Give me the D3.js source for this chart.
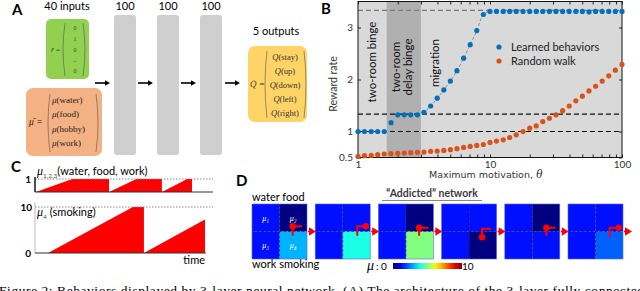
<!DOCTYPE html>
<html>
  <meta charset='utf-8'>
  <style>
    body{ margin: 0; background: #fff; }
    svg{ display: block; }
    text{ font-family: Lato, 'Open Sans', sans-serif; }
    .serif{ font-family: 'Liberation Serif', 'DejaVu Serif', serif; }
    .panel{ font-weight: bold; font-size: 15px; }
  </style>
  <body>
    <svg width='640' height='291'></svg>
    <script src='https://d3js.org/d3.v7.min.js'></script>
    <script>
      // ---- panel A data
      const hiddenLayers = [100, 100, 100]
      const roomVector = ['0', '1', '0', '..', '0']
      const motivNames = ['water', 'food', 'hobby', 'work']
      const actions = ['stay', 'up', 'down', 'left', 'right']

      // ---- panel B data
      const theta = [1, 1.12, 1.26, 1.41, 1.58, 1.78, 2, 2.24, 2.51, 2.82, 3.16, 3.55, 3.98, 4.47, 5.01, 5.62, 6.31, 7.08, 7.94, 8.91,
        10, 11.2, 12.6, 14.1, 15.8, 17.8, 20, 22.4, 25.1, 28.2, 31.6, 35.5, 39.8, 44.7, 50.1, 56.2, 63.1, 70.8, 79.4, 89.1, 100]
      const learned = [1, 1, 1, 1, 1, 1.17, 1.32, 1.32, 1.32, 1.32, 1.37, 1.49, 1.64, 1.8, 1.97, 2.17, 2.41, 2.67, 2.94, 3.25,
        3.31, 3.31, 3.31, 3.31, 3.31, 3.31, 3.31, 3.31, 3.31, 3.31, 3.31, 3.31, 3.31, 3.31, 3.31, 3.3, 3.31, 3.31, 3.31, 3.31, 3.31]
      const randomWalk = [0.52, 0.535, 0.54, 0.555, 0.567, 0.573, 0.58, 0.586, 0.592, 0.6, 0.605, 0.618, 0.624, 0.637, 0.65, 0.67, 0.694, 0.713, 0.732, 0.75,
        0.79, 0.815, 0.84, 0.885, 0.936, 1, 1.064, 1.108, 1.19, 1.255, 1.32, 1.4, 1.49, 1.59, 1.68, 1.78, 1.87, 1.97, 2.07, 2.18, 2.29]
      const refLines = [1, 4 / 3, 3.33]
      const delayBand = [1.65, 3.0]
      const yTicksB = [0.5, 1, 2, 3]

      // ---- panel C data (time, value)
      const motiveT = [0.5, 21, 41.6, 41.6, 57, 71.3, 71.3, 85.5, 88.2, 88.2]
      const motiveV = [0, 1, 1, 0, 1, 1, 0, 1, 1, 0]
      const smokeT = [7.3, 55, 61.2, 61.2, 95.5, 95.5]
      const smokeV = [0, 10, 10, 0, 7.3, 0]

      // ---- panel D data: mu of water, food, work, smoking per frame
      const frameMu = [
        [1.4, 0, 1.4, 3.0],
        [1.4, 1.4, 1.4, 4.0],
        [1.4, 0, 1.4, 5.0],
        [1.4, 1.4, 1.4, 0],
        [1.4, 0, 1.4, 1.4],
        [1.4, 1.4, 1.4, 2.2]
      ]
      // agent path in grid units (0..2) and its dot
      const agentPath = [
        [[1.48, 1.15], [1.48, 0.81], [1.82, 0.81]],
        [[1.53, 1.15], [1.53, 0.81], [1.84, 0.81]],
        [[1.48, 1.15], [1.48, 0.86], [1.82, 0.86]],
        [[1.47, 1.21], [1.47, 0.9], [1.8, 0.9]],
        [[1.51, 1.15], [1.51, 0.86], [1.84, 0.86]],
        [[1.51, 1.21], [1.51, 0.86], [1.84, 0.86]]
      ]
      const agentDot = [[1.48, 0.81], [1.84, 0.81], [1.48, 0.86], [1.47, 1.21], [1.51, 0.86], [1.84, 0.86]]

      const svg = d3.select('svg')

      const arrow = (g, x1, x2, y, color, head = 4) => {
        g.append('line').attr('x1', x1).attr('x2', x2 - head).attr('y1', y).attr('y2', y)
          .attr('stroke', color).attr('stroke-width', 1.6)
        g.append('path').attr('d', `M${x2},${y}L${x2 - head - 1},${y - head * 0.7}L${x2 - head - 1},${y + head * 0.7}Z`)
          .attr('fill', color)
      }

      const paren = (g, x, y0, y1, dir) => {
        let bend = 4 * dir
        g.append('path').attr('d', `M${x},${y0}Q${x - bend},${(y0 + y1) / 2} ${x},${y1}`)
          .attr('fill', 'none').attr('stroke', '#555').attr('stroke-width', 0.6)
      }

      /* ======== A: network ======== */
      const gA = svg.append('g')
      gA.append('text').attr('class', 'panel').attr('x', 12).attr('y', 15).text('A')
      gA.append('text').attr('x', 67).attr('y', 10).attr('text-anchor', 'middle').attr('font-size', 11).text('40 inputs')

      gA.append('rect').attr('x', 46).attr('y', 19).attr('width', 43).attr('height', 60).attr('rx', 5).attr('fill', '#92d050')
      gA.append('text').attr('class', 'serif').attr('x', 51).attr('y', 52).attr('font-size', 7).attr('font-style', 'italic').attr('fill', '#333').text('r̄ =')
      paren(gA, 65, 23, 76, 1)
      paren(gA, 83, 23, 76, -1)
      const yVec = d3.scalePoint().domain(d3.range(roomVector.length)).range([28, 71])
      gA.selectAll('.rv').data(roomVector).join('text')
        .attr('class', 'serif').attr('x', 75).attr('y', (d, i) => yVec(i) + 2).attr('text-anchor', 'middle')
        .attr('font-size', 6).attr('fill', '#444').text(d => d)

      gA.append('rect').attr('x', 26).attr('y', 88).attr('width', 76).attr('height', 68).attr('rx', 7).attr('fill', '#f4b183')
      gA.append('text').attr('class', 'serif').attr('x', 29).attr('y', 125).attr('font-size', 9.5).attr('font-style', 'italic').attr('fill', '#222').text('μ̄ =')
      paren(gA, 50, 94, 152, 1)
      paren(gA, 96, 94, 152, -1)
      const yMu = d3.scalePoint().domain(d3.range(motivNames.length)).range([100, 143])
      motivNames.forEach((name, i) => {
        let t = gA.append('text').attr('class', 'serif').attr('x', 52).attr('y', yMu(i) + 3).attr('font-size', 9).attr('fill', '#222')
        t.append('tspan').attr('font-style', 'italic').text('μ')
        t.append('tspan').text(`(${name})`)
      })

      const xCol = d3.scaleLinear().domain([0, 1]).range([114, 157])
      hiddenLayers.forEach((n, i) => {
        gA.append('rect').attr('x', xCol(i)).attr('y', 15).attr('width', 22).attr('height', 140).attr('rx', 3).attr('fill', '#cfcfcf')
        gA.append('text').attr('x', xCol(i) + 11).attr('y', 10).attr('text-anchor', 'middle').attr('font-size', 11).text(n)
        arrow(gA, xCol(i) - 19, xCol(i) - 4, 83, '#000')
      })

      gA.append('text').attr('x', 276).attr('y', 35).attr('text-anchor', 'middle').attr('font-size', 11).text('5 outputs')
      gA.append('rect').attr('x', 248).attr('y', 46).attr('width', 59).attr('height', 76).attr('rx', 7).attr('fill', '#ffd466')
      arrow(gA, 225, 240, 83, '#000')
      gA.append('text').attr('class', 'serif').attr('x', 250).attr('y', 87).attr('font-size', 9).attr('font-style', 'italic').attr('fill', '#333').text('Q̇ =')
      paren(gA, 267, 51, 118, 1)
      paren(gA, 304, 51, 118, -1)
      const yQ = d3.scalePoint().domain(d3.range(actions.length)).range([57, 113])
      actions.forEach((a, i) => {
        let t = gA.append('text').attr('class', 'serif').attr('x', 285).attr('y', yQ(i) + 3).attr('text-anchor', 'middle')
          .attr('font-size', 8.5).attr('fill', '#333')
        t.append('tspan').attr('font-style', 'italic').text('Q')
        t.append('tspan').text(`(${a})`)
      })

      /* ======== B: reward rate ======== */
      const gB = svg.append('g')
      const x = d3.scaleLog().domain([1, 100]).range([358, 622])
      const y = d3.scaleLinear().domain([0.5, 3.5]).range([157.5, 1.5])
      gB.append('text').attr('class', 'panel').attr('x', 321).attr('y', 14).text('B')

      gB.append('rect').attr('x', x(1)).attr('y', y(3.5)).attr('width', x(100) - x(1)).attr('height', y(0.5) - y(3.5)).attr('fill', '#d9d9d9')
      gB.append('rect').attr('x', x(delayBand[0])).attr('y', y(3.5)).attr('width', x(delayBand[1]) - x(delayBand[0]))
        .attr('height', y(0.5) - y(3.5)).attr('fill', '#b0b0b0')

      refLines.forEach((v, i) => {
        gB.append('line').attr('x1', x(1)).attr('x2', x(100)).attr('y1', y(v)).attr('y2', y(v))
          .attr('stroke', i === 2 ? '#7a7a7a' : '#111').attr('stroke-width', 1.1).attr('stroke-dasharray', '5,3')
      })

      // fit curve through the migration part
      const fitIdx = d3.range(9, 21)
      gB.append('path').datum(fitIdx)
        .attr('d', d3.line().x(i => x(theta[i])).y(i => y(learned[i])).curve(d3.curveMonotoneX))
        .attr('fill', 'none').attr('stroke', '#777').attr('stroke-width', 0.8).attr('stroke-dasharray', '3,2')

      const yAxis = d3.axisLeft(y).tickValues(yTicksB).tickSize(-3).tickPadding(5).tickFormat(d3.format('~g'))
      const yAxisR = d3.axisRight(y).tickValues(yTicksB).tickSize(-3).tickFormat('')
      const xAxis = d3.axisBottom(x).ticks(10).tickSize(-3).tickPadding(3).tickFormat(d => [1, 10, 100].includes(d) ? d : '')
      const xAxisT = d3.axisTop(x).ticks(10).tickSize(-3).tickFormat('')
      const styleAxis = (g) => {
        g.select('.domain').remove()
        g.selectAll('line').attr('stroke', '#222')
        g.selectAll('text').attr('font-family', '"Liberation Sans", Arial, sans-serif').attr('font-size', 10).attr('fill', '#333')
      }
      gB.append('g').attr('transform', `translate(${x(1)},0)`).call(yAxis).call(styleAxis)
      gB.append('g').attr('transform', `translate(${x(100)},0)`).call(yAxisR).call(styleAxis)
      gB.append('g').attr('transform', `translate(0,${y(0.5)})`).call(xAxis).call(styleAxis)
      gB.append('g').attr('transform', `translate(0,${y(3.5)})`).call(xAxisT).call(styleAxis)
      gB.append('rect').attr('x', x(1)).attr('y', y(3.5)).attr('width', x(100) - x(1)).attr('height', y(0.5) - y(3.5))
        .attr('fill', 'none').attr('stroke', '#111').attr('stroke-width', 1)

      gB.append('text').attr('transform', `translate(337,84) rotate(-90)`).attr('text-anchor', 'middle')
        .attr('font-size', 10.5).attr('fill', '#333').text('Reward rate')
      const xl = gB.append('text').attr('x', 429).attr('y', 178).attr('font-size', 10.5).attr('fill', '#333')
      xl.append('tspan').attr('font-family', 'Verdana, "DejaVu Sans", sans-serif').attr('font-size', 9.5).text('Maximum motivation,  ')
      xl.append('tspan').attr('class', 'serif').attr('font-style', 'italic').attr('font-size', 13).text('θ')

      const vlabel = (lines, cx, cy) => {
        lines.forEach((s, i) => {
          gB.append('text').attr('transform', `translate(${cx + (i - (lines.length - 1) / 2) * 11.5},${cy}) rotate(-90)`)
            .attr('text-anchor', 'middle').attr('dy', '0.35em').attr('font-size', 11.5).attr('fill', '#111').text(s)
        })
      }
      vlabel(['two-room binge'], 372, 62)
      vlabel(['two-room', 'delay binge'], 402, 67)
      vlabel(['migration'], 435, 63)

      gB.selectAll('.rw').data(randomWalk).join('circle')
        .attr('cx', (d, i) => x(theta[i])).attr('cy', d => y(d)).attr('r', 2.6).attr('fill', '#d95319')
      gB.selectAll('.lb').data(learned).join('circle')
        .attr('cx', (d, i) => x(theta[i])).attr('cy', d => y(d)).attr('r', 2.6).attr('fill', '#0072bd')

      const legend = [['Learned behaviors', '#0072bd'], ['Random walk', '#d95319']]
      legend.forEach(([name, c], i) => {
        gB.append('circle').attr('cx', 499).attr('cy', 47 + i * 14).attr('r', 2.6).attr('fill', c)
        gB.append('text').attr('x', 511).attr('y', 51 + i * 14).attr('font-size', 11).attr('fill', '#222').text(name)
      })

      /* ======== C: motivation dynamics ======== */
      const gC = svg.append('g')
      gC.append('text').attr('class', 'panel').attr('x', 11).attr('y', 172).text('C')
      const xc = d3.scaleLinear().domain([0, 100]).range([35, 213])
      const yTop = d3.scaleLinear().domain([0, 1]).range([192, 179])
      const yBot = d3.scaleLinear().domain([0, 10]).range([253, 207])

      gC.append('path').datum(motiveT.map((t, i) => [t, motiveV[i]]))
        .attr('d', d3.area().x(d => xc(d[0])).y0(yTop(0)).y1(d => yTop(d[1]))).attr('fill', '#f00')
      gC.append('path').datum(smokeT.map((t, i) => [t, smokeV[i]]))
        .attr('d', d3.area().x(d => xc(d[0])).y0(yBot(0)).y1(d => yBot(d[1]))).attr('fill', '#f00')

      gC.append('line').attr('x1', xc(0)).attr('x2', xc(100)).attr('y1', yTop(1)).attr('y2', yTop(1))
        .attr('stroke', '#888').attr('stroke-dasharray', '1.5,1.5')
      gC.append('line').attr('x1', xc(0)).attr('x2', xc(100)).attr('y1', yTop(0)).attr('y2', yTop(0)).attr('stroke', '#333')
      gC.append('line').attr('x1', xc(0)).attr('x2', xc(0)).attr('y1', yTop(1.15)).attr('y2', yTop(0)).attr('stroke', '#222').attr('stroke-width', 1.6)
      gC.append('text').attr('x', 31).attr('y', yTop(1) + 4).attr('text-anchor', 'end').attr('font-size', 10).attr('font-weight', 'bold').text('1')

      gC.append('line').attr('x1', xc(0)).attr('x2', xc(100)).attr('y1', yBot(10)).attr('y2', yBot(10))
        .attr('stroke', '#888').attr('stroke-dasharray', '1.5,1.5')
      gC.append('line').attr('x1', xc(0)).attr('x2', xc(96)).attr('y1', yBot(0)).attr('y2', yBot(0)).attr('stroke', '#333')
      gC.append('line').attr('x1', xc(0)).attr('x2', xc(0)).attr('y1', yBot(11)).attr('y2', yBot(0)).attr('stroke', '#aaa').attr('stroke-width', 0.8)
      gC.append('text').attr('x', 32).attr('y', yBot(10) + 4).attr('text-anchor', 'end').attr('font-size', 10).attr('font-weight', 'bold').text('10')
      gC.append('text').attr('x', 31).attr('y', yBot(0) + 4).attr('text-anchor', 'end').attr('font-size', 10).attr('font-weight', 'bold').text('0')

      const t1 = gC.append('text').attr('x', 37).attr('y', 175).attr('font-size', 11)
      t1.append('tspan').attr('class', 'serif').attr('font-style', 'italic').attr('font-size', 12).text('μ')
      t1.append('tspan').attr('font-size', 6.5).attr('dy', 2.5).attr('fill', '#555').text('1,2,3')
      t1.append('tspan').attr('dy', -2.5).text('(water, food, work)')
      const t2 = gC.append('text').attr('x', 37).attr('y', 216).attr('font-size', 11)
      t2.append('tspan').attr('class', 'serif').attr('font-style', 'italic').attr('font-size', 12).text('μ')
      t2.append('tspan').attr('font-size', 6.5).attr('dy', 2.5).attr('fill', '#555').text('4')
      t2.append('tspan').attr('dy', -2.5).text(' (smoking)')
      gC.append('text').attr('x', 205).attr('y', 264).attr('text-anchor', 'end').attr('font-size', 11).text('time')

      /* ======== D: addicted network ======== */
      const gD = svg.append('g')
      gD.append('text').attr('class', 'panel').attr('x', 236).attr('y', 186).text('D')
      gD.append('text').attr('x', 252).attr('y', 201).attr('font-size', 11).text('water food')
      gD.append('text').attr('x', 252).attr('y', 268).attr('font-size', 11).text('work smoking')
      gD.append('text').attr('x', 432).attr('y', 197).attr('text-anchor', 'middle')
        .attr('font-size', 10.5).attr('font-weight', 'bold').attr('fill', '#3a3a3a').text('“Addicted” network')
      gD.append('line').attr('x1', 382).attr('x2', 482).attr('y1', 200.5).attr('y2', 200.5).attr('stroke', '#888').attr('stroke-width', 1.2)

      const jet = (v) => {
        let t = v / 10
        let c = k => Math.round(255 * Math.max(0, Math.min(1, 1.5 - Math.abs(4 * t - k))))
        return `rgb(${c(3)},${c(2)},${c(1)})`
      }
      const xFrame = d3.scaleLinear().domain([0, 5]).range([252, 568])
      const gridSize = 55
      const cell = d3.scaleLinear().domain([0, 2]).range([0, gridSize])
      const cellPos = [[0, 0], [1, 0], [0, 1], [1, 1]]

      frameMu.forEach((mus, f) => {
        let g = gD.append('g').attr('transform', `translate(${xFrame(f)},204)`)
        g.selectAll('rect').data(mus).join('rect')
          .attr('x', (d, i) => cell(cellPos[i][0])).attr('y', (d, i) => cell(cellPos[i][1]))
          .attr('width', cell(1)).attr('height', cell(1)).attr('fill', d => jet(d))
        g.append('line').attr('x1', 0).attr('x2', gridSize).attr('y1', cell(1)).attr('y2', cell(1))
          .attr('stroke', '#101040').attr('stroke-width', 0.6).attr('stroke-dasharray', '3,1.5')
        g.append('line').attr('x1', cell(1)).attr('x2', cell(1)).attr('y1', 0).attr('y2', gridSize)
          .attr('stroke', '#101040').attr('stroke-width', 0.6).attr('stroke-dasharray', '3,1.5')
        g.append('rect').attr('width', gridSize).attr('height', gridSize).attr('fill', 'none').attr('stroke', '#5a6ad0').attr('stroke-width', 0.6)
        if (f === 0) {
          g.selectAll('.lab').data(mus).join('text')
            .attr('class', 'serif').attr('x', (d, i) => cell(cellPos[i][0] + 0.5)).attr('y', (d, i) => cell(cellPos[i][1] + 0.5) + 3)
            .attr('text-anchor', 'middle').attr('font-size', 8).attr('font-style', 'italic').attr('fill', '#fff')
            .text((d, i) => `μ${'₁₂₃₄'[i]}`)
        }
        g.append('path').datum(agentPath[f])
          .attr('d', d3.line().x(p => cell(p[0])).y(p => cell(p[1])))
          .attr('fill', 'none').attr('stroke', '#f00').attr('stroke-width', 2)
        g.append('circle').attr('cx', cell(agentDot[f][0])).attr('cy', cell(agentDot[f][1])).attr('r', 3.2).attr('fill', '#f00')
        arrow(g, gridSize + 1, gridSize + 9, cell(1), '#f00', 6)
      })

      // colorbar
      const grad = svg.append('defs').append('linearGradient').attr('id', 'jet')
      d3.range(0, 10.01, 1).forEach(v => {
        grad.append('stop').attr('offset', `${v * 10}%`).attr('stop-color', jet(v))
      })
      gD.append('rect').attr('x', 393).attr('y', 263).attr('width', 69).attr('height', 6).attr('fill', 'url(#jet)')
      const cb = gD.append('text').attr('x', 367).attr('y', 270).attr('font-size', 10)
      cb.append('tspan').attr('class', 'serif').attr('font-style', 'italic').attr('font-size', 14).text('μ')
      cb.append('tspan').attr('dx', 2).text(': 0')
      gD.append('text').attr('x', 462).attr('y', 270).attr('font-size', 10).text('10')

      /* ======== caption (cut off) ======== */
      svg.append('text').attr('class', 'serif').attr('x', -1).attr('y', 294.5).attr('font-size', 13.5)
        .attr('textLength', 645).attr('lengthAdjust', 'spacing')
        .text('Figure 2: Behaviors displayed by 3-layer neural network. (A) The architecture of the 3-layer fully connected')
    </script>
  </body>
</html>
